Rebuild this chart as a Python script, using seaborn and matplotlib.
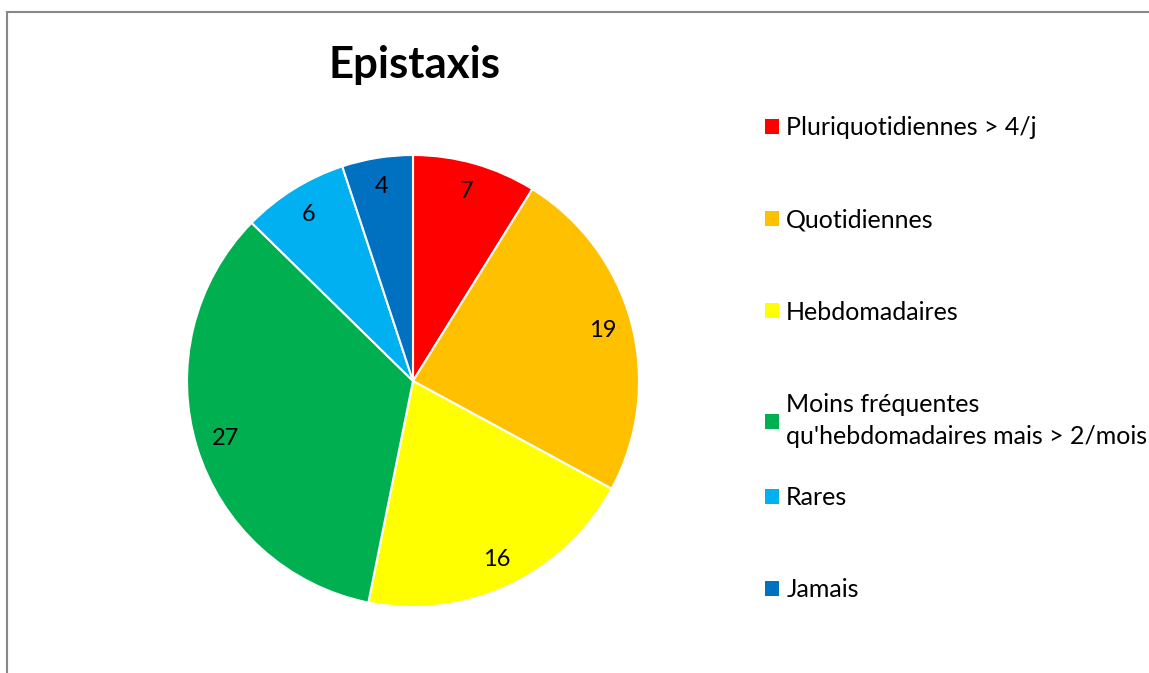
import matplotlib
matplotlib.use("Agg")
import matplotlib.pyplot as plt
from matplotlib.patches import Patch, Rectangle
import seaborn as sns

sns.set_style("white")
plt.rcParams["font.family"] = ["Lato", "DejaVu Sans"]
plt.rcParams["text.color"] = "black"

title = "Epistaxis"
categories = [
    "Pluriquotidiennes > 4/j",
    "Quotidiennes",
    "Hebdomadaires",
    "Moins fréquentes\nqu'hebdomadaires mais > 2/mois",
    "Rares",
    "Jamais",
]
counts = [7, 19, 16, 27, 6, 4]
colors = ["#FF0000", "#FFC000", "#FFFF00", "#00B050", "#00B0F0", "#0070C0"]

W, H = 1149, 673
fig = plt.figure(figsize=(W / 100, H / 100), dpi=100)

# pie axes: centre (413, 381), radius 226 px
cx, cy, r = 413, 381, 226
ax = fig.add_axes([(cx - r) / W, (H - cy - r) / H, 2 * r / W, 2 * r / H])
total = sum(counts)
wedges, _, autotexts = ax.pie(
    counts,
    colors=colors,
    startangle=90,
    counterclock=False,
    radius=1,
    autopct=lambda p: f"{round(p * total / 100):d}",
    pctdistance=0.87,
    wedgeprops=dict(edgecolor="white", linewidth=1.5),
    textprops=dict(fontsize=17, color="black"),
)
ax.set_xlim(-1, 1)
ax.set_ylim(-1, 1)
ax.set_aspect("equal")
ax.axis("off")

fig.text(415 / W, 1 - 65 / H, title, ha="center", va="center",
         fontsize=31.5, fontweight="bold", color="black")

# legend split in two blocks so the spacing follows the original layout
handles = [Patch(facecolor=c, edgecolor="none") for c in colors]
leg_kw = dict(loc="upper left", frameon=False, fontsize=18, borderpad=0,
              borderaxespad=0, handlelength=0.55, handleheight=0.55,
              handletextpad=0.3, labelspacing=2.77)
leg1 = fig.legend(handles[:4], categories[:4],
                  bbox_to_anchor=(765 / W, 1 - 116 / H), **leg_kw)
leg2 = fig.legend(handles[4:], categories[4:],
                  bbox_to_anchor=(765 / W, 1 - 486 / H), **leg_kw)
for leg in (leg1, leg2):
    for t in leg.get_texts():
        t.set_linespacing(1.5)
        t.set_color("black")

# chart frame (only top and left edges visible)
fig.add_artist(Rectangle((7 / W, -0.1), 1.5, 1.1 - 12 / H, fill=False,
                         edgecolor="#888888", linewidth=1.5,
                         transform=fig.transFigure))

fig.savefig("out.png", dpi=100)
